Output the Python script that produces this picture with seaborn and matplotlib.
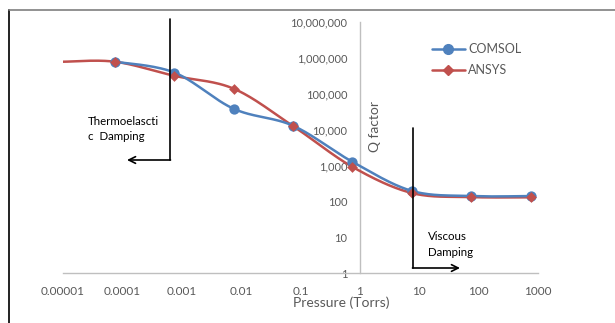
import numpy as np
import pandas as pd
import seaborn as sns
import matplotlib
matplotlib.use("Agg")
import matplotlib.pyplot as plt
from matplotlib.lines import Line2D

# ---- data ----
pressure_comsol = [7.5e-5, 7.5e-4, 7.5e-3, 7.5e-2, 0.75, 7.5, 75, 750]
q_comsol = [780000, 390000, 38000, 12800, 1260, 195, 140, 140]
pressure_ansys = [1e-5, 7.5e-5, 7.5e-4, 7.5e-3, 7.5e-2, 0.75, 7.5, 75, 750]
q_ansys = [780000, 780000, 316000, 138000, 12500, 910, 170, 131, 129]
x_ticks = [1e-5, 1e-4, 1e-3, 1e-2, 1e-1, 1, 10, 100, 1000]
x_tick_labels = ["0.00001", "0.0001", "0.001", "0.01", "0.1", "1", "10", "100", "1000"]
y_ticks = [1, 10, 100, 1000, 10000, 100000, 1000000, 10000000]
y_tick_labels = ["1", "10", "100", "1,000", "10,000", "100,000", "1,000,000", "10,000,000"]

BLUE = "#4F81BD"
RED = "#C0504D"
GRAY_TXT = "#595959"
AXIS_GRAY = "#BFBFBF"

sns.set_theme(style="white")
plt.rcParams["font.family"] = ["Lato", "DejaVu Sans"]


def smooth(xs, ys, n=30):
    """Excel-like smoothed line (Catmull-Rom in log-log space)."""
    lx = np.log10(np.asarray(xs, float))
    ly = np.log10(np.asarray(ys, float))
    px = np.concatenate([[lx[0]], lx, [lx[-1]]])
    py = np.concatenate([[ly[0]], ly, [ly[-1]]])
    ox, oy = [], []
    for i in range(1, len(px) - 2):
        p0, p1, p2, p3 = (np.array([px[j], py[j]]) for j in (i - 1, i, i + 1, i + 2))
        c1 = p1 + (p2 - p0) / 6.0
        c2 = p2 - (p3 - p1) / 6.0
        t = np.linspace(0, 1, n)[:, None]
        pts = ((1 - t) ** 3) * p1 + 3 * ((1 - t) ** 2) * t * c1 + 3 * (1 - t) * t ** 2 * c2 + t ** 3 * p2
        ox.extend(pts[:, 0]); oy.extend(pts[:, 1])
    return 10 ** np.array(ox), 10 ** np.array(oy)


W, H = 615, 323
fig = plt.figure(figsize=(W / 100, H / 100), dpi=100)
ax = fig.add_axes([63 / W, 1 - 273 / H, (538 - 63) / W, (273 - 22) / H])

for xs, ys, col in [(pressure_ansys, q_ansys, RED), (pressure_comsol, q_comsol, BLUE)]:
    sx, sy = smooth(xs, ys)
    df = pd.DataFrame({"x": sx, "y": sy})
    sns.lineplot(data=df, x="x", y="y", sort=False, estimator=None, color=col,
                 linewidth=1.8, ax=ax, zorder=3)

dfc = pd.DataFrame({"p": pressure_comsol, "q": q_comsol})
dfa = pd.DataFrame({"p": pressure_ansys[1:], "q": q_ansys[1:]})
sns.scatterplot(data=dfa, x="p", y="q", marker="D", s=30, color=RED, edgecolor=RED,
                linewidth=0, ax=ax, zorder=5)
sns.scatterplot(data=dfc, x="p", y="q", marker="o", s=55, color=BLUE, edgecolor=BLUE,
                linewidth=0, ax=ax, zorder=4)

ax.set_xscale("log")
ax.set_yscale("log")
ax.set_xlim(1e-5, 1e3)
ax.set_ylim(1, 1e7)
ax.set_xticks(x_ticks)
ax.set_xticklabels(x_tick_labels)
ax.set_yticks(y_ticks)
ax.set_yticklabels(y_tick_labels)
ax.minorticks_off()
ax.tick_params(axis="both", length=0, labelcolor=GRAY_TXT)
ax.tick_params(axis="y", pad=9, labelsize=8)
ax.tick_params(axis="x", pad=9.5, labelsize=8.5)
ax.set_xlabel("")
ax.set_ylabel("")

for s in ["top", "right"]:
    ax.spines[s].set_visible(False)
ax.spines["left"].set_position(("data", 1))
ax.spines["left"].set_color(AXIS_GRAY)
ax.spines["bottom"].set_color(AXIS_GRAY)
ax.spines["left"].set_linewidth(1)
ax.spines["bottom"].set_linewidth(1)
ax.patch.set_alpha(0)

fig.text(341 / W, 1 - 303 / H, "Pressure (Torrs)", ha="center", va="center",
         fontsize=10, color=GRAY_TXT)
fig.text(375 / W, 1 - 127 / H, "Q factor", ha="center", va="center", rotation=90,
         fontsize=10, color=GRAY_TXT)

handles = [Line2D([], [], color=BLUE, lw=1.8, marker="o", markersize=7),
           Line2D([], [], color=RED, lw=1.8, marker="D", markersize=5)]
leg = fig.legend(handles, ["COMSOL", "ANSYS"], loc="upper left",
                 bbox_to_anchor=(432 / W, 1 - 43 / H), frameon=False, fontsize=9,
                 handlelength=2.6, handletextpad=0.3, labelspacing=0.75,
                 borderaxespad=0, borderpad=0)
for t in leg.get_texts():
    t.set_color(GRAY_TXT)

# annotations
def figxy(px, py):
    return (px / W, 1 - py / H)

fig.add_artist(Line2D([170 / W, 170 / W], [1 - 19 / H, 1 - 160 / H], color="black", lw=1.2))
ax.annotate("", xy=figxy(127, 160), xycoords="figure fraction",
            xytext=figxy(170.5, 160), textcoords="figure fraction",
            arrowprops=dict(arrowstyle="->", color="black", lw=1.2, shrinkA=0, shrinkB=0,
                            mutation_scale=12))
fig.text(88 / W, 1 - 122 / H, "Thermoelascti", ha="left", va="center", fontsize=8.3, color="black")
fig.text(88 / W, 1 - 137 / H, "c  Damping", ha="left", va="center", fontsize=8.3, color="black")

fig.add_artist(Line2D([413 / W, 413 / W], [1 - 128 / H, 1 - 268 / H], color="black", lw=1.2))
ax.annotate("", xy=figxy(460, 268), xycoords="figure fraction",
            xytext=figxy(412.5, 268), textcoords="figure fraction",
            arrowprops=dict(arrowstyle="->", color="black", lw=1.2, shrinkA=0, shrinkB=0,
                            mutation_scale=12))
fig.text(428 / W, 1 - 237 / H, "Viscous", ha="left", va="center", fontsize=8.3, color="black")
fig.text(428 / W, 1 - 252 / H, "Damping", ha="left", va="center", fontsize=8.3, color="black")

# outer frame
fig.add_artist(Line2D([8.5 / W, 8.5 / W], [0, 1 - 9.5 / H], color="#222222", lw=1.4))
fig.add_artist(Line2D([8.5 / W, 1], [1 - 9.5 / H, 1 - 9.5 / H], color="#7F7F7F", lw=1.2))

fig.savefig("out.png", dpi=100)
